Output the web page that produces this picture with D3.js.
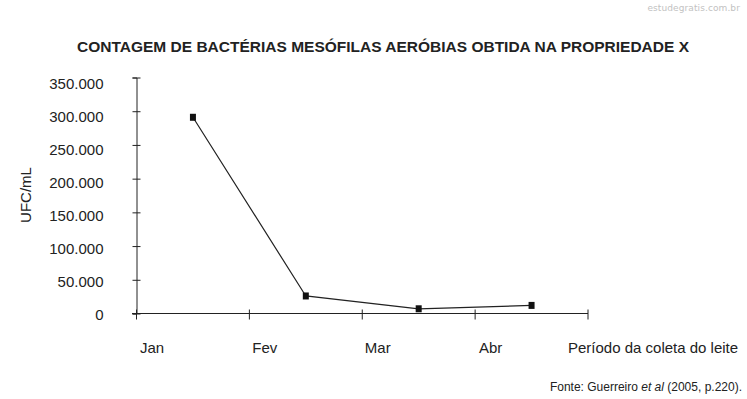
<!DOCTYPE html>
<html lang="pt-BR">
<head>
    <meta charset="UTF-8">
    <title>Contagem de bactérias mesófilas aeróbias</title>
    <script src="https://d3js.org/d3.v7.min.js"></script>
    <style>
        body { margin: 0; background: #fff; }
        svg text { font-family: "Liberation Sans", Arial, sans-serif; fill: #222; }
    </style>
</head>
<body>
    <div id="chart"></div>
    <script>
        // Dados
        const meses = ["Jan", "Fev", "Mar", "Abr"];
        const ufc = [291000, 26000, 7000, 12000];
        const yTicks = [0, 50000, 100000, 150000, 200000, 250000, 300000, 350000];

        const W = 747, H = 399;
        const svg = d3.select("#chart").append("svg")
            .attr("width", W)
            .attr("height", H);

        const x = d3.scaleBand().domain(meses).range([136.5, 588]).padding(0);
        const y = d3.scaleLinear().domain([0, 350000]).range([313.5, 77.5]);

        // marca d'água
        svg.append("text")
            .attr("x", 740).attr("y", 11)
            .attr("text-anchor", "end")
            .style("font-family", "'DejaVu Sans', sans-serif")
            .style("font-size", "9px")
            .style("fill", "#c2c2c2")
            .style("letter-spacing", "0.1px")
            .text("estudegratis.com.br");

        // título
        svg.append("text")
            .attr("x", 383).attr("y", 52)
            .attr("text-anchor", "middle")
            .style("font-size", "15.5px")
            .style("font-weight", "bold")
            .text("CONTAGEM DE BACTÉRIAS MESÓFILAS AERÓBIAS OBTIDA NA PROPRIEDADE X");

        // eixo Y
        const fmt = d => d === 0 ? "0" : d3.format(",")(d).replace(/,/g, ".");
        const gy = svg.append("g")
            .attr("transform", "translate(136.5,0)")
            .call(d3.axisLeft(y).tickValues(yTicks).tickFormat(fmt).tickSize(4).tickPadding(29));
        gy.select(".domain").attr("stroke", "#222");
        gy.selectAll(".tick line").attr("x2", -4).attr("x1", 4).attr("stroke", "#222");
        // os rótulos no original ficam um pouco mais juntos que as marcas
        gy.selectAll(".tick text")
            .attr("y", d => 0.8 + 0.024 * (y(0) - y(d)))
            .style("font-size", "15px")
            .style("fill", "#222");

        // eixo X
        const xTickPos = meses.map(m => x(m)).concat([x.range()[1]]);
        const gx = svg.append("g").attr("transform", `translate(0,${y(0)})`);
        gx.append("line")
            .attr("x1", 132).attr("x2", 588)
            .attr("stroke", "#222");
        gx.selectAll("line.tk").data(xTickPos).enter().append("line")
            .attr("class", "tk")
            .attr("x1", d => d).attr("x2", d => d)
            .attr("y1", -4).attr("y2", 6)
            .attr("stroke", "#222");
        gx.selectAll("text.mes").data(meses).enter().append("text")
            .attr("class", "mes")
            .attr("x", d => x(d) + 15.5)
            .attr("y", 39)
            .attr("text-anchor", "middle")
            .style("font-size", "15px")
            .text(d => d);
        gx.append("text")
            .attr("x", 568).attr("y", 39)
            .style("font-size", "15px")
            .text("Período da coleta do leite");

        // título do eixo Y
        svg.append("text")
            .attr("transform", "translate(30.5,195) rotate(-90)")
            .attr("text-anchor", "middle")
            .style("font-size", "15px")
            .text("UFC/mL");

        // linha e marcadores
        const pts = meses.map((m, i) => [x(m) + x.bandwidth() / 2, y(ufc[i])]);
        svg.append("path")
            .attr("d", d3.line()(pts))
            .attr("fill", "none")
            .attr("stroke", "#222")
            .attr("stroke-width", 1.2);
        svg.selectAll("rect.mk").data(pts).enter().append("rect")
            .attr("class", "mk")
            .attr("x", d => d[0] - 3).attr("y", d => d[1] - 3.5)
            .attr("width", 6).attr("height", 7)
            .attr("fill", "#111");

        // fonte
        const fonte = svg.append("text")
            .attr("x", 742).attr("y", 391)
            .attr("text-anchor", "end")
            .style("font-size", "12px");
        fonte.append("tspan").text("Fonte: Guerreiro ");
        fonte.append("tspan").style("font-style", "italic").text("et al");
        fonte.append("tspan").text(" (2005, p.220).");
    </script>
</body>
</html>
